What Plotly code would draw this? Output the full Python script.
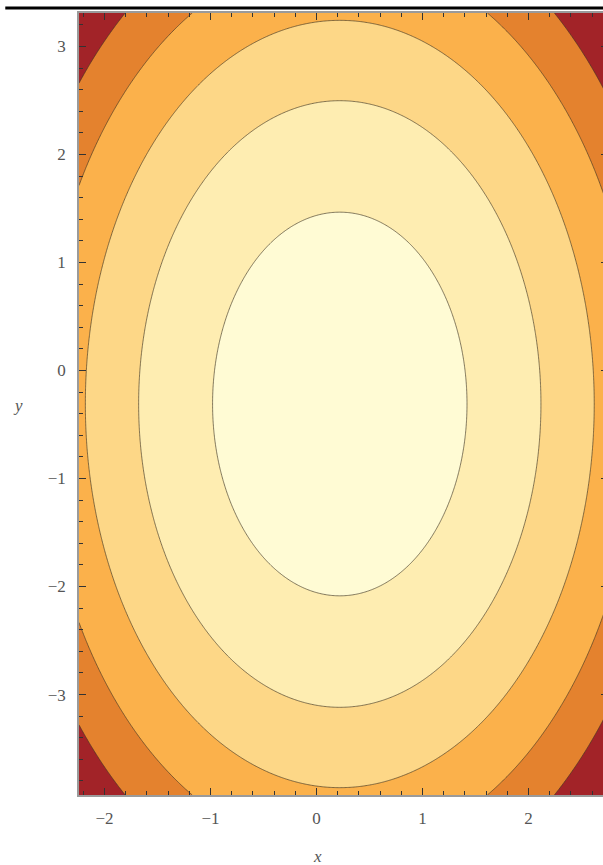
import numpy as np
import plotly.graph_objects as go

# --- data ---
x_range = [-2.24, 2.75]
y_range = [-3.93, 3.31]
center = [0.22, -0.31]          # centre of the elliptical contours
axis_ratio = 1.48               # y semi-axis / x semi-axis
levels = [1.44, 3.60, 5.76, 7.92, 10.08]   # contour levels (x semi-axis squared)
band_colors = ["#FFFBD4", "#FEEDB1", "#FDD787", "#FBB14B", "#E4822E", "#A22328"]
x_ticks = [-2, -1, 0, 1, 2]
x_ticktext = ["\u22122", "\u22121", "0", "1", "2"]
y_ticks = [-3, -2, -1, 0, 1, 2, 3]
y_ticktext = ["\u22123", "\u22122", "\u22121", "0", "1", "2", "3"]

xs = np.linspace(x_range[0], x_range[1], 401)
ys = np.linspace(y_range[0], y_range[1], 561)
X, Y = np.meshgrid(xs, ys)
Z = (X - center[0]) ** 2 + ((Y - center[1]) / axis_ratio) ** 2

n = len(band_colors)
colorscale = [[i / (n - 1), c] for i, c in enumerate(band_colors)]
step = levels[1] - levels[0]

fig = go.Figure(go.Contour(
    x=xs, y=ys, z=Z,
    contours=dict(start=levels[0], end=levels[-1] + 1e-6, size=step, coloring="fill"),
    colorscale=colorscale,
    showscale=False,
    line=dict(color="rgba(60,50,35,0.8)", width=0.8),
    hoverinfo="skip",
))

serif = "Liberation Serif, DejaVu Serif, serif"
tickfont = dict(family=serif, size=17, color="#555555")
common = dict(
    ticks="inside", ticklen=7, tickwidth=1, tickcolor="#333333",
    minor=dict(dtick=0.2, tick0=0, ticks="inside", ticklen=4, tickwidth=1, tickcolor="#333333"),
    showline=True, linecolor="#9a9a9a", linewidth=1.5, mirror="ticks",
    showgrid=False, zeroline=False, tickfont=tickfont,
)
fig.update_xaxes(range=x_range, tickvals=x_ticks, ticktext=x_ticktext, ticklabelstandoff=7, **common)
fig.update_yaxes(range=y_range, tickvals=y_ticks, ticktext=y_ticktext, ticklabelstandoff=8, **common)

W, H = 610, 865
L, R, T, B = 79, 0, 13, 70
pw, ph = W - L - R, H - T - B

fig.update_layout(
    width=W, height=H,
    margin=dict(l=L, r=R, t=T, b=B),
    paper_bgcolor="white", plot_bgcolor="white",
    showlegend=False,
    shapes=[dict(type="line", xref="paper", yref="paper",
                 x0=(5 - L) / pw, x1=1.0, y0=1 + (T - 8) / ph, y1=1 + (T - 8) / ph,
                 line=dict(color="black", width=3))],
    annotations=[
        dict(text="<i>x</i>", xref="paper", yref="paper", x=(318 - L) / pw, y=-(856 - (H - B)) / ph,
             showarrow=False, xanchor="center", yanchor="middle",
             font=dict(family=serif, size=17, color="#555555")),
        dict(text="<i>y</i>", xref="paper", yref="paper", x=(18 - L) / pw, y=(H - B - 405) / ph,
             showarrow=False, xanchor="center", yanchor="middle",
             font=dict(family=serif, size=17, color="#555555")),
    ],
)

fig.write_html("out.html",
               config={"displayModeBar": False},
               post_script="document.body.style.margin='0';document.body.style.overflow='hidden';")
